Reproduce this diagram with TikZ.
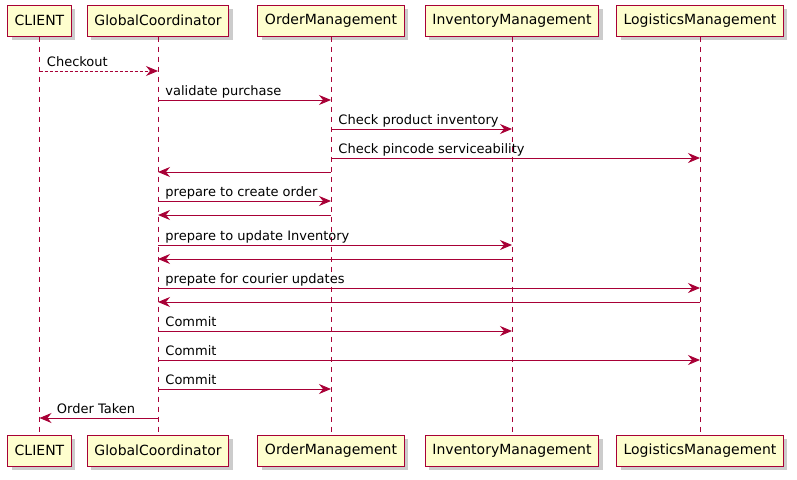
\documentclass[tikz,border=0pt]{standalone}
\usepackage{fontspec}
\setmainfont{DejaVu Sans}
\usetikzlibrary{arrows.meta,shadows}
\definecolor{umlred}{HTML}{A80036}
\definecolor{umlfill}{HTML}{FEFECE}
\tikzset{
  part/.style={draw=umlred, fill=umlfill, line width=1pt, minimum height=31pt,
    inner xsep=7pt, font=\fontsize{14}{16}\selectfont,
    drop shadow={shadow xshift=4pt, shadow yshift=-4pt, fill=black!40}},
  life/.style={draw=umlred, line width=0.9pt, dash pattern=on 5pt off 5pt},
  msg/.style={draw=umlred, line width=0.9pt, -{Stealth[length=12pt,width=10pt,inset=4pt]}},
  reply/.style={msg, dash pattern=on 3pt off 2pt},
  lbl/.style={anchor=base west, inner sep=0pt, font=\fontsize{13}{15}\selectfont, yshift=4.5pt},
}
\begin{document}
\begin{tikzpicture}[x=1pt, y=-1pt]
    \useasboundingbox (0,0) rectangle (797,479);
    % participants, top and bottom
    \node[part] (cliT) at (39.5,20.5) {CLIENT};
    \node[part] (gcT) at (158,20.5) {GlobalCoordinator};
    \node[part] (omT) at (331,20.5) {OrderManagement};
    \node[part] (imT) at (512,20.5) {InventoryManagement};
    \node[part] (lmT) at (700,20.5) {LogisticsManagement};
    \node[part] (cliB) at (39.5,450.5) {CLIENT};
    \node[part] (gcB) at (158,450.5) {GlobalCoordinator};
    \node[part] (omB) at (331,450.5) {OrderManagement};
    \node[part] (imB) at (512,450.5) {InventoryManagement};
    \node[part] (lmB) at (700,450.5) {LogisticsManagement};
    % lifelines
    \draw[life] (cliT) -- (cliB);
    \draw[life] (gcT) -- (gcB);
    \draw[life] (omT) -- (omB);
    \draw[life] (imT) -- (imB);
    \draw[life] (lmT) -- (lmB);
    % messages
    \draw[reply] (cliT |- 0,71) -- (gcT |- 0,71) node[lbl, pos=0, xshift=7pt] (m1) {Checkout};
    \draw[msg] (gcT |- 0,100) -- (omT |- 0,100) node[lbl, pos=0, xshift=7pt] (m2) {validate purchase};
    \draw[msg] (omT |- 0,129) -- (imT |- 0,129) node[lbl, pos=0, xshift=7pt] (m3) {Check product inventory};
    \draw[msg] (omT |- 0,158) -- (lmT |- 0,158) node[lbl, pos=0, xshift=7pt] (m4) {Check pincode serviceability};
    \draw[msg] (omT |- 0,172) -- (gcT |- 0,172);
    \draw[msg] (gcT |- 0,201) -- (omT |- 0,201) node[lbl, pos=0, xshift=7pt] (m6) {prepare to create order};
    \draw[msg] (omT |- 0,215) -- (gcT |- 0,215);
    \draw[msg] (gcT |- 0,245) -- (imT |- 0,245) node[lbl, pos=0, xshift=7pt] (m8) {prepare to update Inventory};
    \draw[msg] (imT |- 0,259) -- (gcT |- 0,259);
    \draw[msg] (gcT |- 0,288) -- (lmT |- 0,288) node[lbl, pos=0, xshift=7pt] (m10) {prepate for courier updates};
    \draw[msg] (lmT |- 0,302) -- (gcT |- 0,302);
    \draw[msg] (gcT |- 0,331) -- (imT |- 0,331) node[lbl, pos=0, xshift=7pt] (m12) {Commit};
    \draw[msg] (gcT |- 0,360) -- (lmT |- 0,360) node[lbl, pos=0, xshift=7pt] (m13) {Commit};
    \draw[msg] (gcT |- 0,389) -- (omT |- 0,389) node[lbl, pos=0, xshift=7pt] (m14) {Commit};
    \draw[msg] (gcT |- 0,418) -- (cliT |- 0,418) node[lbl, pos=1, xshift=17pt] (m15) {Order Taken};
\end{tikzpicture}
\end{document}
